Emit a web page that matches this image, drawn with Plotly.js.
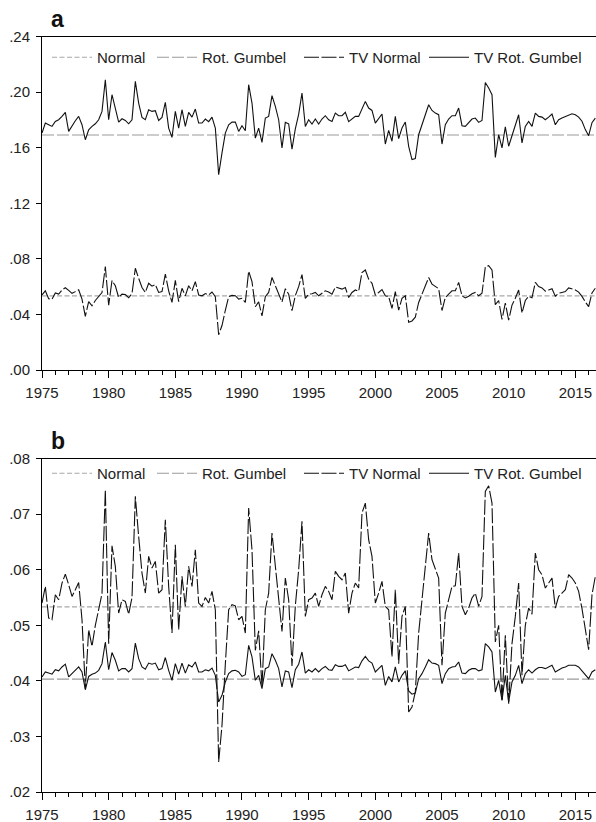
<!DOCTYPE html>
<html><head><meta charset="utf-8">
<script src="https://cdn.plot.ly/plotly-3.0.1.min.js"></script>
<style>html,body{margin:0;padding:0;background:#fff;overflow:hidden}</style>
</head><body><div id="chart" style="width:596px;height:822px"></div>
<script>
// Quarterly observations, first one is 1975Q1
const startYear = 1975;
const quartersPerYear = 4;

// TV Normal (same series in panels a and b)
const tvNormal = [
0.0540,0.0570,0.0513,0.0510,0.0555,0.0546,0.0576,0.0592,0.0573,0.0552,
0.0564,0.0577,0.0510,0.0386,0.0492,0.0462,0.0500,0.0530,0.0557,0.0744,
0.0467,0.0643,0.0606,0.0522,0.0546,0.0543,0.0520,0.0550,0.0732,0.0660,
0.0594,0.0558,0.0624,0.0603,0.0615,0.0558,0.0564,0.0690,0.0570,0.0486,
0.0645,0.0492,0.0588,0.0534,0.0606,0.0570,0.0636,0.0540,0.0534,0.0550,
0.0540,0.0561,0.0528,0.0254,0.0320,0.0430,0.0528,0.0537,0.0535,0.0510,
0.0516,0.0486,0.0711,0.0636,0.0455,0.0490,0.0390,0.0528,0.0558,0.0666,
0.0606,0.0546,0.0489,0.0585,0.0546,0.0427,0.0535,0.0600,0.0687,0.0516,
0.0546,0.0549,0.0558,0.0534,0.0555,0.0570,0.0561,0.0546,0.0597,0.0588,
0.0582,0.0594,0.0522,0.0558,0.0576,0.0567,0.0702,0.0720,0.0654,0.0624,
0.0540,0.0558,0.0579,0.0534,0.0528,0.0443,0.0564,0.0431,0.0516,0.0534,
0.0344,0.0353,0.0380,0.0486,0.0546,0.0600,0.0666,0.0618,0.0600,0.0585,
0.0428,0.0522,0.0546,0.0570,0.0571,0.0630,0.0534,0.0519,0.0531,0.0549,
0.0558,0.0534,0.0552,0.0741,0.0751,0.0720,0.0470,0.0500,0.0364,0.0482,
0.0359,0.0467,0.0516,0.0576,0.0410,0.0500,0.0531,0.0520,0.0630,0.0600,
0.0591,0.0567,0.0576,0.0585,0.0531,0.0552,0.0558,0.0564,0.0591,0.0585,
0.0576,0.0561,0.0530,0.0490,0.0456,0.0555,0.0588
];

// TV Rot. Gumbel, panel a
const tvRotGumbelA = [
0.1705,0.1777,0.1765,0.1753,0.1789,0.1801,0.1825,0.1854,0.1717,0.1758,
0.1794,0.1825,0.1765,0.1657,0.1729,0.1753,0.1772,0.1801,0.1861,0.2089,
0.1801,0.1981,0.1885,0.1784,0.1808,0.1796,0.1772,0.1801,0.2077,0.1921,
0.1818,0.1801,0.1873,0.1861,0.1866,0.1796,0.1818,0.1926,0.1741,0.1674,
0.1861,0.1741,0.1873,0.1753,0.1854,0.1820,0.1878,0.1777,0.1777,0.1806,
0.1787,0.1820,0.1741,0.1406,0.1562,0.1705,0.1765,0.1784,0.1784,0.1717,
0.1758,0.1722,0.2053,0.1921,0.1669,0.1741,0.1638,0.1813,0.1825,0.1974,
0.1897,0.1801,0.1598,0.1782,0.1772,0.1590,0.1735,0.1840,0.1993,0.1753,
0.1801,0.1770,0.1806,0.1770,0.1806,0.1830,0.1801,0.1789,0.1849,0.1830,
0.1830,0.1854,0.1787,0.1806,0.1825,0.1825,0.1885,0.1933,0.1885,0.1868,
0.1777,0.1813,0.1842,0.1626,0.1725,0.1646,0.1825,0.1665,0.1741,0.1784,
0.1610,0.1514,0.1521,0.1693,0.1765,0.1837,0.1909,0.1868,0.1849,0.1837,
0.1626,0.1765,0.1806,0.1830,0.1830,0.1885,0.1758,0.1753,0.1782,0.1806,
0.1813,0.1782,0.1796,0.2069,0.2029,0.1981,0.1530,0.1693,0.1598,0.1749,
0.1610,0.1681,0.1765,0.1837,0.1634,0.1753,0.1789,0.1753,0.1849,0.1825,
0.1820,0.1801,0.1820,0.1842,0.1765,0.1801,0.1813,0.1825,0.1837,0.1844,
0.1837,0.1820,0.1790,0.1730,0.1686,0.1780,0.1813
];

// TV Rot. Gumbel, panel b
const tvRotGumbelB = [
0.0407,0.0416,0.0414,0.0412,0.0420,0.0418,0.0425,0.0430,0.0407,0.0413,
0.0419,0.0425,0.0416,0.0384,0.0408,0.0412,0.0414,0.0419,0.0431,0.0470,
0.0420,0.0451,0.0437,0.0418,0.0422,0.0422,0.0416,0.0422,0.0468,0.0440,
0.0425,0.0421,0.0432,0.0430,0.0432,0.0420,0.0422,0.0442,0.0419,0.0401,
0.0431,0.0412,0.0432,0.0414,0.0429,0.0425,0.0434,0.0416,0.0416,0.0420,
0.0418,0.0423,0.0410,0.0362,0.0374,0.0398,0.0413,0.0418,0.0419,0.0416,
0.0408,0.0411,0.0464,0.0443,0.0401,0.0410,0.0386,0.0422,0.0425,0.0449,
0.0437,0.0422,0.0389,0.0418,0.0416,0.0388,0.0420,0.0430,0.0452,0.0414,
0.0420,0.0416,0.0422,0.0416,0.0422,0.0426,0.0420,0.0419,0.0429,0.0426,
0.0426,0.0429,0.0418,0.0422,0.0425,0.0424,0.0436,0.0444,0.0436,0.0432,
0.0416,0.0422,0.0428,0.0392,0.0408,0.0398,0.0425,0.0398,0.0410,0.0418,
0.0382,0.0376,0.0378,0.0404,0.0413,0.0425,0.0438,0.0432,0.0431,0.0428,
0.0395,0.0413,0.0422,0.0425,0.0426,0.0434,0.0414,0.0413,0.0419,0.0422,
0.0422,0.0418,0.0420,0.0467,0.0461,0.0452,0.0380,0.0401,0.0365,0.0410,
0.0362,0.0398,0.0410,0.0428,0.0395,0.0413,0.0420,0.0414,0.0420,0.0424,
0.0424,0.0422,0.0425,0.0428,0.0416,0.0420,0.0423,0.0425,0.0428,0.0428,
0.0428,0.0425,0.0418,0.0410,0.0404,0.0416,0.0420
];

// Constant (static) copula estimates
const normalConst = 0.0533;
const rotGumbelConstA = 0.1691;
const rotGumbelConstB = 0.0403;

// Axis ticks
const xTickVals = [1975, 1980, 1985, 1990, 1995, 2000, 2005, 2010, 2015];
const xTickText = ['1975','1980','1985','1990','1995','2000','2005','2010','2015'];
const yTickValsA = [0, 0.04, 0.08, 0.12, 0.16, 0.20, 0.24];
const yTickTextA = ['.00', '.04', '.08', '.12', '.16', '.20', '.24'];
const yTickValsB = [0.02, 0.03, 0.04, 0.05, 0.06, 0.07, 0.08];
const yTickTextB = ['.02', '.03', '.04', '.05', '.06', '.07', '.08'];
const seriesNames = ['Normal', 'Rot. Gumbel', 'TV Normal', 'TV Rot. Gumbel'];
const panelLabels = ['a', 'b'];

const dates = tvNormal.map((_, i) => startYear + i / quartersPerYear);
const flat = v => dates.map(() => v);

const FONT = 'Liberation Sans, Arial, sans-serif';
const styles = [
  {color: '#a8a8a8', width: 1.2, dash: '5px,2.5px'},
  {color: '#9a9a9a', width: 1.2, dash: '12px,3px'},
  {color: '#111111', width: 1.1, dash: '15px,2.5px'},
  {color: '#111111', width: 1.1, dash: 'solid'}
];
// left pixel of each legend entry's line sample
const legendSampleX = [53, 158, 305, 430];

function legName(p, k) {
  const n = p * 4 + k + 1;
  return n === 1 ? 'legend' : 'legend' + n;
}

function panelTraces(p, xa, ya, rgConst, tvRG) {
  const ys = [flat(normalConst), flat(rgConst), tvNormal, tvRG];
  return ys.map((y, k) => ({
    type: 'scatter', mode: 'lines', x: dates, y: y,
    xaxis: xa, yaxis: ya, legend: legName(p, k), name: seriesNames[k],
    line: styles[k], hoverinfo: 'skip'
  }));
}

const data = [
  ...panelTraces(0, 'x', 'y', rotGumbelConstA, tvRotGumbelA),
  ...panelTraces(1, 'x2', 'y2', rotGumbelConstB, tvRotGumbelB)
];

const H = 822, L = 42, W = 596;
const xRange = [1975, 1975 + (W - L) / 13.333];

function xAxis(anchor) {
  return {
    anchor: anchor, domain: [0, 1], range: xRange, tickmode: 'array',
    tickvals: xTickVals, ticktext: xTickText, ticks: 'outside', ticklen: 7,
    tickwidth: 1, tickcolor: '#000', showline: true, linecolor: '#000',
    linewidth: 1, mirror: true, showgrid: false, zeroline: false,
    automargin: false, ticklabelstandoff: 2,
    tickfont: {family: FONT, size: 15, color: '#222'},
    minor: {tickmode: 'linear', tick0: 1975, dtick: 1, ticks: 'outside',
            ticklen: 4, tickwidth: 1, tickcolor: '#000', showgrid: false}
  };
}
function yAxis(anchor, dom, range, tv, tt) {
  return {
    anchor: anchor, domain: dom, range: range, tickmode: 'array',
    tickvals: tv, ticktext: tt, ticks: 'outside', ticklen: 5, tickwidth: 1,
    tickcolor: '#000', showline: true, linecolor: '#000', linewidth: 1,
    showgrid: false, zeroline: false, automargin: false, ticklabelstandoff: 3,
    tickfont: {family: FONT, size: 15, color: '#222'}
  };
}
function legendAt(sampleX, topPx) {
  return {
    orientation: 'h', x: (sampleX - 6 - L) / (W - L), xanchor: 'left',
    y: 1 - topPx / H, yanchor: 'top', bgcolor: 'rgba(0,0,0,0)',
    borderwidth: 0, itemwidth: 40, tracegroupgap: 0,
    font: {family: FONT, size: 15, color: '#222'}
  };
}

const layout = {
  width: W, height: H,
  margin: {l: L, r: 0, t: 0, b: 0, pad: 0},
  paper_bgcolor: '#fff', plot_bgcolor: '#fff',
  showlegend: true,
  xaxis: xAxis('y'),
  yaxis: yAxis('x', [1 - 370 / H, 1 - 36.5 / H], [0, 0.24], yTickValsA, yTickTextA),
  xaxis2: xAxis('y2'),
  yaxis2: yAxis('x2', [1 - 792 / H, 1 - 458.6 / H], [0.02, 0.08], yTickValsB, yTickTextB),
  annotations: [
    {text: '<b>' + panelLabels[0] + '</b>', xref: 'paper', yref: 'paper',
     x: (49 - L) / (W - L), y: 1 - 19 / H, xanchor: 'left', yanchor: 'middle',
     showarrow: false, font: {family: FONT, size: 23, color: '#111'}},
    {text: '<b>' + panelLabels[1] + '</b>', xref: 'paper', yref: 'paper',
     x: (49 - L) / (W - L), y: 1 - 441 / H, xanchor: 'left', yanchor: 'middle',
     showarrow: false, font: {family: FONT, size: 23, color: '#111'}}
  ]
};
[41, 457].forEach((top, p) => {
  legendSampleX.forEach((sx, k) => { layout[legName(p, k)] = legendAt(sx, top); });
});

Plotly.newPlot('chart', data, layout, {displayModeBar: false, staticPlot: true});
</script>
</body></html>
